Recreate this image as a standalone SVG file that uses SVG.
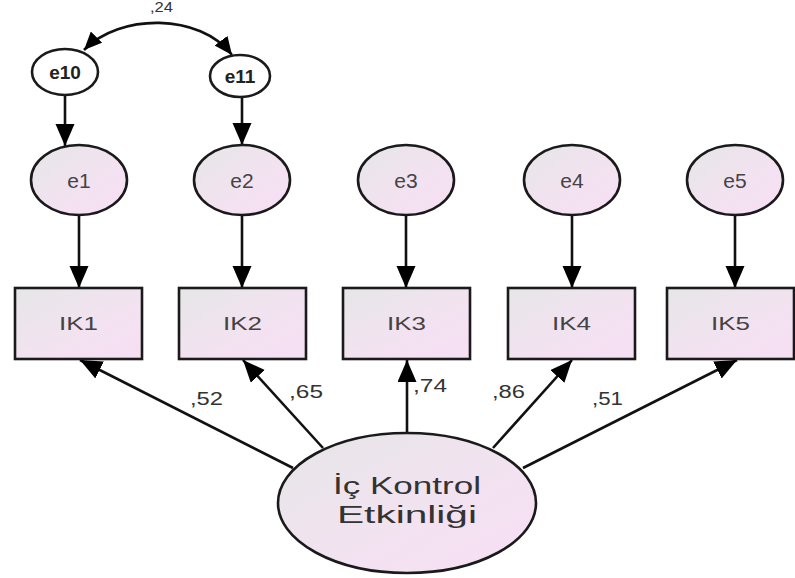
<svg xmlns="http://www.w3.org/2000/svg" width="795" height="578" viewBox="0 0 795 578">
<defs>
<linearGradient id="g" x1="0" y1="0" x2="1" y2="1">
<stop offset="0" stop-color="#e6e6e8"/>
<stop offset="0.6" stop-color="#f3e2f1"/>
<stop offset="1" stop-color="#f6dff3"/>
</linearGradient>
<marker id="ah" markerUnits="userSpaceOnUse" markerWidth="24" markerHeight="20" refX="22" refY="9.5" orient="auto-start-reverse">
<path d="M0,0 L22,9.5 L0,19 z" fill="#000"/>
</marker>
<marker id="ahs" markerUnits="userSpaceOnUse" markerWidth="20" markerHeight="16" refX="18" refY="8" orient="auto-start-reverse">
<path d="M0,0 L18,8 L0,16 z" fill="#000"/>
</marker>
</defs>
<style>
.n{fill:url(#g);stroke:#1a1a1a;stroke-width:2.6}
.w{fill:#fff;stroke:#1a1a1a;stroke-width:2.6}
.c{fill:none;stroke:#111;stroke-width:2.6}
.t{font-family:"Liberation Sans",Arial,sans-serif;text-anchor:middle;fill:#444}
.b{font-family:"Liberation Sans",Arial,sans-serif;text-anchor:middle;fill:#222;font-weight:bold}
.l{font-family:"Liberation Sans",Arial,sans-serif;fill:#333}
</style>
<rect width="795" height="578" fill="#fff"/>
<g id="connectors">
<path class="c" d="M84,50 C120,13 200,13 232,55" marker-start="url(#ahs)" marker-end="url(#ahs)"/>
<line class="c" x1="65" y1="95" x2="65" y2="146" marker-end="url(#ah)"/>
<line class="c" x1="242" y1="97" x2="242" y2="145" marker-end="url(#ah)"/>
<line class="c" x1="79" y1="215" x2="79" y2="288" marker-end="url(#ah)"/>
<line class="c" x1="242" y1="215" x2="242" y2="288" marker-end="url(#ah)"/>
<line class="c" x1="406" y1="215" x2="406" y2="288" marker-end="url(#ah)"/>
<line class="c" x1="572" y1="215" x2="572" y2="288" marker-end="url(#ah)"/>
<line class="c" x1="735" y1="215" x2="735" y2="288" marker-end="url(#ah)"/>
<line class="c" x1="293" y1="468" x2="80" y2="360" marker-end="url(#ah)"/>
<line class="c" x1="323" y1="448" x2="243" y2="360" marker-end="url(#ah)"/>
<line class="c" x1="407" y1="433" x2="407" y2="360" marker-end="url(#ah)"/>
<line class="c" x1="493" y1="448" x2="572" y2="360" marker-end="url(#ah)"/>
<line class="c" x1="523" y1="468" x2="737" y2="360" marker-end="url(#ah)"/>
<text class="l" x="150" y="12" font-size="14" textLength="23" lengthAdjust="spacingAndGlyphs">,24</text>
<text class="l" x="190" y="405" font-size="18" textLength="33" lengthAdjust="spacingAndGlyphs">,52</text>
<text class="l" x="289" y="398" font-size="18" textLength="34" lengthAdjust="spacingAndGlyphs">,65</text>
<text class="l" x="413" y="392" font-size="18" textLength="34" lengthAdjust="spacingAndGlyphs">,74</text>
<text class="l" x="492" y="398" font-size="18" textLength="33" lengthAdjust="spacingAndGlyphs">,86</text>
<text class="l" x="592" y="405" font-size="18" textLength="31" lengthAdjust="spacingAndGlyphs">,51</text>
</g>
<g id="e10"><ellipse class="w" cx="65" cy="72" rx="33" ry="23"/><text class="b" x="65" y="79" font-size="19">e10</text></g>
<g id="e11"><ellipse class="w" cx="240" cy="76" rx="30" ry="21"/><text class="b" x="240" y="83" font-size="19">e11</text></g>
<g id="e1"><ellipse class="n" cx="79" cy="180" rx="48" ry="35"/><text class="t" x="79" y="188" font-size="21">e1</text></g>
<g id="e2"><ellipse class="n" cx="242" cy="180" rx="48" ry="35"/><text class="t" x="242" y="188" font-size="21">e2</text></g>
<g id="e3"><ellipse class="n" cx="406" cy="180" rx="48" ry="35"/><text class="t" x="406" y="188" font-size="21">e3</text></g>
<g id="e4"><ellipse class="n" cx="572" cy="180" rx="48" ry="35"/><text class="t" x="572" y="188" font-size="21">e4</text></g>
<g id="e5"><ellipse class="n" cx="735" cy="180" rx="48" ry="35"/><text class="t" x="735" y="188" font-size="21">e5</text></g>
<g id="IK1"><rect class="n" x="15" y="288" width="127" height="71"/><text class="t" x="78.5" y="330" font-size="18" textLength="39" lengthAdjust="spacingAndGlyphs">IK1</text></g>
<g id="IK2"><rect class="n" x="179" y="288" width="127" height="71"/><text class="t" x="242.5" y="330" font-size="18" textLength="39" lengthAdjust="spacingAndGlyphs">IK2</text></g>
<g id="IK3"><rect class="n" x="343" y="288" width="127" height="71"/><text class="t" x="406.5" y="330" font-size="18" textLength="39" lengthAdjust="spacingAndGlyphs">IK3</text></g>
<g id="IK4"><rect class="n" x="508" y="288" width="127" height="71"/><text class="t" x="571.5" y="330" font-size="18" textLength="39" lengthAdjust="spacingAndGlyphs">IK4</text></g>
<g id="IK5"><rect class="n" x="667" y="288" width="127" height="71"/><text class="t" x="730.5" y="330" font-size="18" textLength="39" lengthAdjust="spacingAndGlyphs">IK5</text></g>
<g id="IcKontrol"><ellipse class="n" cx="407" cy="503" rx="129" ry="70"/>
<text class="t" x="407" y="494" font-size="23" style="fill:#333" textLength="148" lengthAdjust="spacingAndGlyphs">İç Kontrol</text>
<text class="t" x="407" y="523" font-size="23" style="fill:#333" textLength="140" lengthAdjust="spacingAndGlyphs">Etkinliği</text></g>
</svg>
